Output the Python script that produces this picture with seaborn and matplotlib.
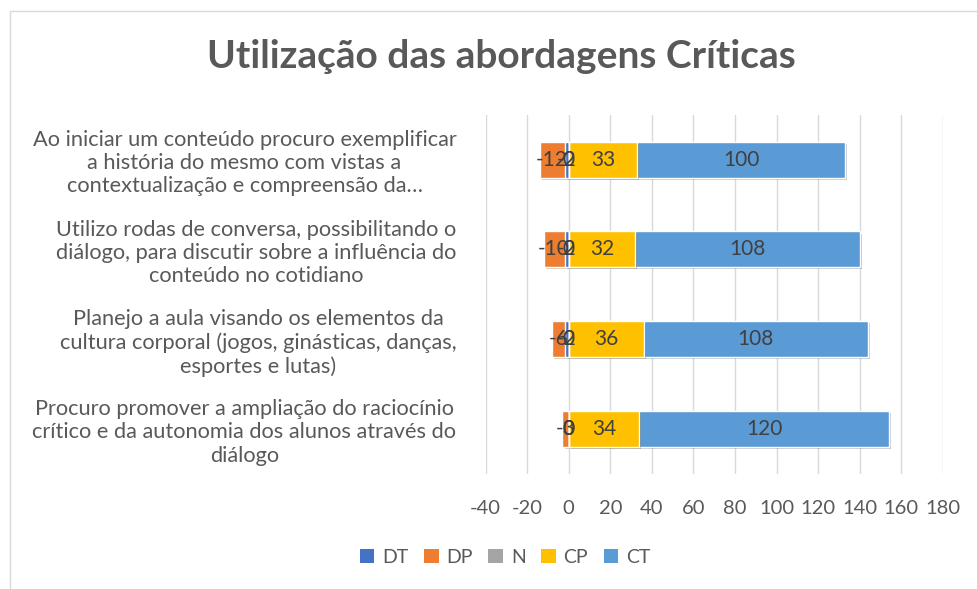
# horizontal diverging stacked bar chart (Likert style)

import pandas as pd
import seaborn as sns
import matplotlib.pyplot as plt
from matplotlib import patheffects as pe
from matplotlib.patches import Patch, Rectangle

categories = [
    "Ao iniciar um conteúdo procuro exemplificar\na história do mesmo com vistas a\ncontextualização e compreensão da…",
    "Utilizo rodas de conversa, possibilitando o\ndiálogo, para discutir sobre a influência do\nconteúdo no cotidiano",
    "Planejo a aula visando os elementos da\ncultura corporal (jogos, ginásticas, danças,\nesportes e lutas)",
    "Procuro promover a ampliação do raciocínio\ncrítico e da autonomia dos alunos através do\ndiálogo",
]
dt = [-2, -2, -2, 0]
dp = [-12, -10, -6, -3]
n = [0, 0, 0, 0]
cp = [33, 32, 36, 34]
ct = [100, 108, 108, 120]

series_names = ['DT', 'DP', 'N', 'CP', 'CT']
colors = {'DT': '#4472C4', 'DP': '#ED7D31', 'N': '#A5A5A5', 'CP': '#FFC000', 'CT': '#5B9BD5'}

sns.set_theme(style='white')
plt.rcParams['font.family'] = ['Lato', 'DejaVu Sans']
plt.rcParams['axes.unicode_minus'] = False

df = pd.DataFrame({'cat': categories, 'DT': dt, 'DP': dp, 'N': n, 'CP': cp, 'CT': ct})

fig, ax = plt.subplots(figsize=(9.77, 5.89), dpi=100)
fig.subplots_adjust(left=0.497, right=0.965, top=0.805, bottom=0.196)

# cumulative layers, drawn widest first so the narrower ones sit on top
layers = [
    ('DP', df['DT'] + df['DP']),
    ('DT', df['DT']),
    ('CT', df['N'] + df['CP'] + df['CT']),
    ('CP', df['N'] + df['CP']),
    ('N', df['N']),
]
for name, vals in layers:
    sns.barplot(x=vals, y=df['cat'], orient='h', color=colors[name], saturation=1,
                width=0.4, ax=ax, zorder=3)

for p in ax.patches:
    p.set_path_effects([pe.SimplePatchShadow(offset=(1.5, -1.5), alpha=0.25), pe.Normal()])

# data labels
for i, row in df.iterrows():
    centers = {
        'DT': row['DT'] / 2,
        'DP': row['DT'] + row['DP'] / 2,
        'N': row['N'] / 2,
        'CP': row['N'] + row['CP'] / 2,
        'CT': row['N'] + row['CP'] + row['CT'] / 2,
    }
    for name in series_names:
        ax.text(centers[name], i, str(row[name]), ha='center', va='center',
                fontsize=15, color='#404040', zorder=5)

ax.set_xlim(-40, 180)
ax.set_xticks(range(-40, 181, 20))
ax.set_ylim(3.5, -0.5)
ax.grid(axis='x', color='#D9D9D9', linewidth=1)
ax.set_axisbelow(True)
for s in ax.spines.values():
    s.set_visible(False)
ax.set_xlabel('')
ax.set_ylabel('')
ax.tick_params(axis='x', length=0, pad=19, labelsize=14.5, labelcolor='#595959')
ax.tick_params(axis='y', length=0, pad=21, labelsize=15.7, labelcolor='#595959')
for lbl in ax.get_yticklabels():
    lbl.set_multialignment('center')
    lbl.set_linespacing(1.2)

fig.text(0.513, 1 - 57 / 589, 'Utilização das abordagens Críticas', ha='center', va='center',
         fontsize=28, weight='bold', color='#595959')

handles = [Patch(facecolor=colors[s], edgecolor='none') for s in series_names]
fig.legend(handles, series_names, loc='center', bbox_to_anchor=(0.517, 0.054), ncol=5,
           frameon=False, handlelength=0.75, handleheight=0.75, handletextpad=0.4,
           columnspacing=0.8, fontsize=14, labelcolor='#595959')

# chart area border (only top and left edges visible in the crop)
fig.patches.append(Rectangle((10 / 977, -0.1), 1.2, 1 - 11 / 589 + 0.1, transform=fig.transFigure,
                             fill=False, edgecolor='#D9D9D9', linewidth=1))

plt.savefig('out.png', dpi=100)
